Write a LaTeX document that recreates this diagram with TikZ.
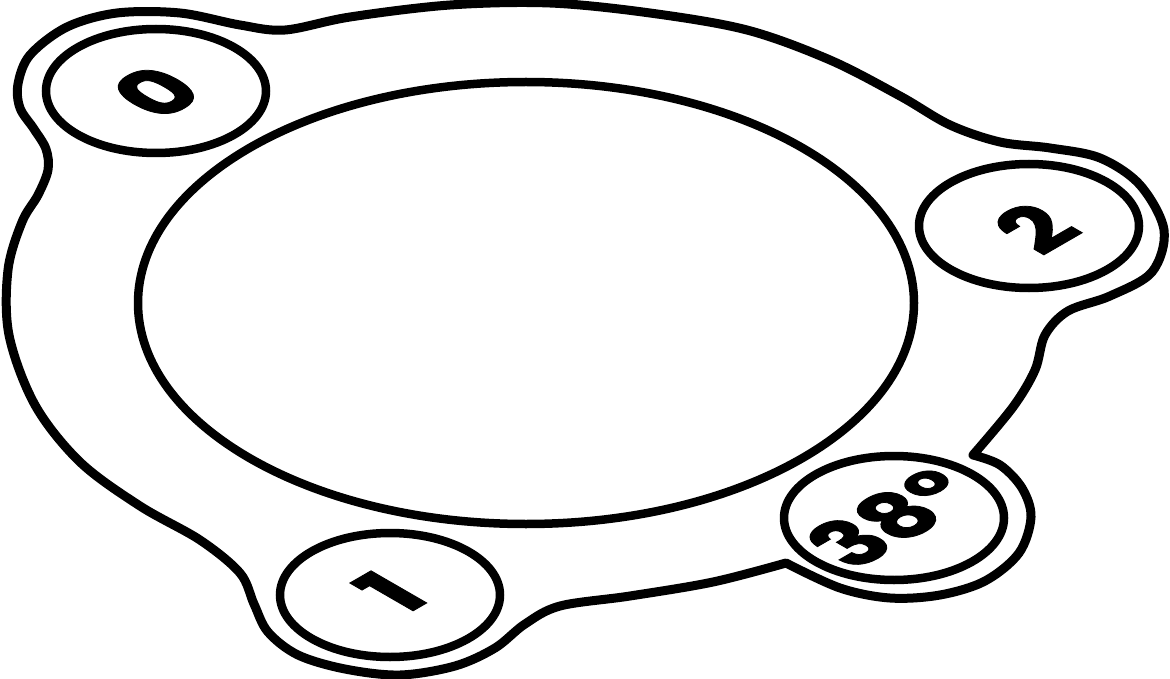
\documentclass[tikz,border=0pt]{standalone}
\usepackage{fontspec}
\newfontfamily\digitfont{Poppins}[BoldFeatures={FakeBold=1.2}]
\tikzset{
  outline/.style={line width=9pt, line join=round, line cap=round},
  ring/.style={line width=8.5pt},
  lbl/.style={font=\digitfont\bfseries\fontsize{88}{88}\selectfont, inner sep=0pt},
  iso/.style={cm={0.866,0.5,-0.866,0.5,#1}}
}
\begin{document}
\begin{tikzpicture}[x=1pt,y=-1pt]
\useasboundingbox (0,0) rectangle (1170,679);
% outer contour
\draw[outline]
  plot[smooth, tension=0.55] coordinates {(973,455) (1000,465) (1022,488) (1031,517) (1019,553) (985,581) (940,595) (890,598) (840,588) (786,563)}
  -- plot[smooth, tension=0.55] coordinates {(786,563) (713,582) (630,596) (560,606) (525,624) (495,648) (455,666) (400,675) (345,669) (298,655) (268,632) (254,604) (240,573) (200,540) (140,506) (80,462) (35,405) (9,335) (8,270) (22,222) (38,195) (48,170) (46,149) (34,129) (20,108) (18,84) (30,55) (67,27) (117,13) (180,13) (240,25) (285,30) (350,17) (450,5) (550,3) (650,13) (747,30) (830,60) (900,96) (950,125) (1000,142) (1050,148) (1100,158) (1140,185) (1164,230) (1152,272) (1110,296) (1068,311) (1045,335) (1035,370) (1013,407) (973,455)}
  -- cycle;
% big inner ellipse
\draw[ring] (526,303) ellipse [x radius=388, y radius=221];
% small ellipses
\draw[ring] (156,91) ellipse [x radius=110, y radius=62];
\draw[ring] (1029,226) ellipse [x radius=110, y radius=62];
\draw[ring] (894,518) ellipse [x radius=110, y radius=62];
\draw[ring] (390,595) ellipse [x radius=110, y radius=62];
% labels in the isometric plane
\node[lbl, iso={(156,92)}] (l0) at (0,0) {0};
\node[lbl, iso={(390,592)}] (l1) at (0,0) {1};
\node[lbl, iso={(1035,228)}] (l2) at (0,0) {2};
\node[lbl, iso={(891,518)}] (l38) at (0,0) {38°};
\end{tikzpicture}
\end{document}
